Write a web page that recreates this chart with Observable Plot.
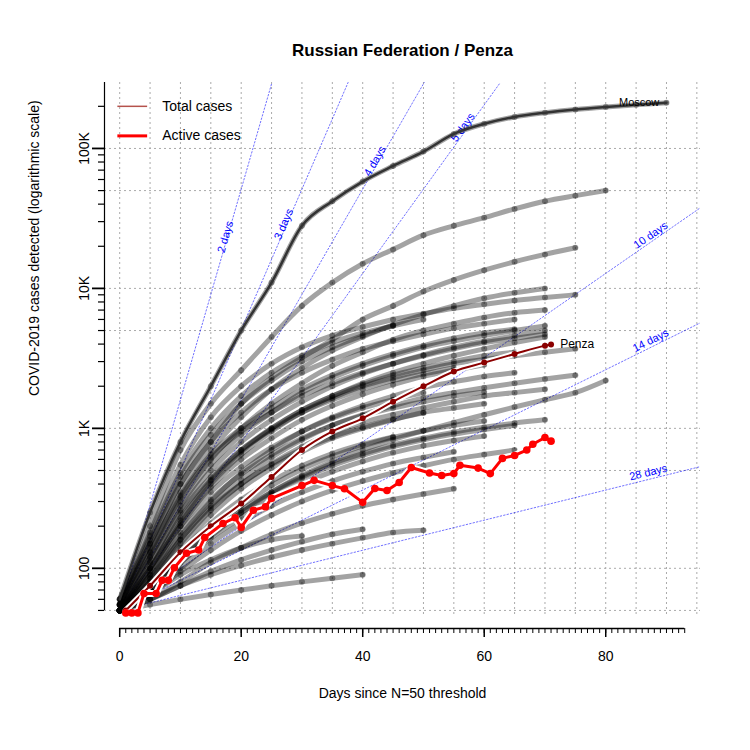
<!DOCTYPE html>
<html><head><meta charset="utf-8">
<script src="https://cdn.jsdelivr.net/npm/d3@7"></script>
<script src="https://cdn.jsdelivr.net/npm/@observablehq/plot@0.6"></script>
<style>body{margin:0;background:#fff} svg{font-family:"Liberation Sans",Arial,sans-serif}</style>
</head><body><div class="chart"></div>
<script>
// Other regions: values every 5 days from day 0
const regions = [
  [60,250,800,2000,5000,11000,28000,42000,58000,75000,95000,127000,150000,168000,180000,190000,198000,205000,212000],
  [55,200,700,1500,2600,4500,7500,11000,15000,19000,24000,28000,32000,37000,42000,46000,50000],
  [55,150,400,800,1500,2300,3200,4300,6000,7500,9500,11500,13500,15500,17500,19500],
  [50,130,350,700,1200,1900,2700,3600,4500,5500,6500,7500,8500,9300,10000],
  [50,120,300,600,1000,1500,2100,2800,3500,4300,5000,5600,6200,6700,7000],
  [55,140,330,650,1000,1400,1900,2400,2900,3400,3900,4400,4800,5100],
  [50,110,260,500,800,1150,1550,2000,2450,2900,3350,3800,4200,4600,5000],
  [50,100,230,430,700,1000,1350,1700,2050,2400,2700,3000,3300,3500],
  [50,90,200,380,600,850,1150,1450,1750,2050,2350,2600,2850],
  [50,95,210,400,650,950,1300,1650,2000,2300,2600,2900,3100,3300,3500,3700],
  [50,85,170,300,480,700,950,1200,1450,1700,1950,2150,2350,2500],
  [50,80,160,280,430,620,830,1050,1250,1450,1650,1800,1950,2100,2250,2400],
  [50,75,140,240,370,520,680,850,1000,1150,1300,1400,1500],
  [50,80,150,260,400,560,740,920,1100,1250,1400,1550,1700,1800,1900],
  [50,70,120,190,280,390,510,630,750,860,960,1050,1130],
  [50,70,115,175,250,340,440,540,640,740,830,910,980,1050],
  [50,65,100,150,210,280,350,420,490,560,620,680],
  [50,60,80,110,140,175,210,245,280,310,340,370],
  [50,60,75,95,115,135,155,175,190],
  [50,55,60,65,70,75,80,85,90],
  [50,65,90,115,140,160,170],
  [50,60,75,90,105,120,135,150,165,180,187],
  [60,160,450,900,1500,2200,3000,3800,4600,5400,6000],
  [60,170,480,1000,1700,2500,3300,4100,4800,5400],
  [55,150,400,800,1300,1900,2500,3100,3700,4200,4700,5200,5600,6000],
  [55,130,320,620,950,1300,1700,2100,2500,2900,3300,3700,4100,4400,4700],
  [50,110,250,450,700,980,1300,1600,1900,2200,2450,2700],
  [50,100,200,350,530,730,950,1180,1400,1600,1800],
  [50,90,180,310,470,650,850,1050,1230,1400,1550,1700,1820],
  [50,85,160,270,400,550,710,870,1020,1160,1290],
  [50,75,130,210,310,420,540,660,770,870],
  [55,120,280,550,900,1300,1800,2300,2800,3300,3800,4200,4600,5000,5400],
  [50,100,220,420,680,1000,1350,1700,2100,2500,2900,3300,3700,4100,4500],
  [50,65,95,135,185,240,300,360,420,480,540,600,650,700],
  [50,75,120,180,260,350,450,560,660,760,850,940,1020,1090,1150],
  [50,70,110,165,230,310,400,490,580,670,750,820,880],
  [55,180,550,1200,2000,2900,3800,4600,5300,6000,6600,7200,7700,8200,8600,9000],
  [50,70,110,170,250,350,460,580,700,830,960,1100,1250,1420,1600,1800,2200]
];
const penzaTotalDays = [1,5,10,15,20,25,30,35,40,45,50,55,60,65,70,71];
const penzaTotal = [50,75,130,200,290,450,700,950,1180,1550,2000,2550,2950,3400,3900,3980];
const activeDays = [1,2,3,4,6,7,8,9,11,13,14,17,19,20,22,24,25,30,32,35,37,40,42,44,46,48,51,53,55,56,59,61,63,65,67,68,70,71];
const activeVals = [48,48,48,66,66,82,82,101,128,135,166,209,230,196,260,275,316,390,425,390,370,296,372,360,410,525,480,460,475,545,520,475,610,640,700,770,860,810];
const doublingT = [2,3,4,5,10,14,28];
const doublingLabelDay = [17.4,27,42,56.5,87.4,87.4,87];
const gridXs = d3.range(0, 96, 5);
const gridYs = [50,100,500,1000,5000,10000,50000,100000];
const yMajor = [100,1000,10000,100000];
const yMinor = [50,60,70,80,90,200,300,400,500,600,700,800,900,2000,3000,4000,5000,6000,7000,8000,9000,20000,30000,40000,50000,60000,70000,80000,90000,200000];
const xMinor = d3.range(0, 94, 1);
const xMajor = [0,20,40,60,80];

const yMin = 46, yMax = 296000, xMin = -2.5, xMax = 95.6;
const rows = regions.flatMap((vals, i) => vals.map((v, k) => ({id: i, day: k * 5, v})));
const penzaRows = penzaTotalDays.map((d, i) => ({day: d, v: penzaTotal[i]}));
const activeRows = activeDays.map((d, i) => ({day: d, v: activeVals[i]}));
const dblRows = doublingT.flatMap(T => {
  const end = Math.min(xMax, T * Math.log2(yMax / 50));
  return [{T, day: 0, v: 50}, {T, day: end, v: 50 * 2 ** (end / T)}];
});
const pxDay = 596 / (xMax - xMin), pxDec = 533 / Math.log10(yMax / yMin);
const dblLabels = doublingT.map((T, i) => ({
  T, day: doublingLabelDay[i], v: 50 * 2 ** (doublingLabelDay[i] / T),
  angle: Math.atan(pxDec * Math.log10(2) / T / pxDay) * 180 / Math.PI
}));
const fmt = v => v >= 1000 ? (v / 1000) + "K" : String(v);

const plot = Plot.plot({
  width: 750, height: 750,
  marginLeft: 104, marginRight: 50, marginTop: 82, marginBottom: 135,
  x: {domain: [xMin, xMax], axis: null},
  y: {type: "log", domain: [yMin, yMax], axis: null},
  marks: [
    Plot.ruleX(gridXs, {stroke: "#aaa", strokeDasharray: "2,3"}),
    Plot.ruleY(gridYs, {stroke: "#aaa", strokeDasharray: "2,3"}),
    Plot.line(dblRows, {x: "day", y: "v", z: "T", stroke: "blue", strokeOpacity: 0.7, strokeWidth: 0.8, strokeDasharray: "1.5,2", clip: true}),
    Plot.text(dblLabels, {x: "day", y: "v", text: d => d.T + " days", rotate: d => -d.angle, fill: "blue", fontSize: 11, dy: -7}),
    Plot.line(rows, {x: "day", y: "v", z: "id", stroke: "black", strokeOpacity: 0.36, strokeWidth: 5, curve: "monotone-x"}),
    Plot.dot(rows, {x: "day", y: "v", r: 3, fill: "black", fillOpacity: 0.35}),
    Plot.line(regions[0].map((v, k) => ({day: k * 5, v})), {x: "day", y: "v", stroke: "#333", strokeWidth: 2.5, curve: "monotone-x"}),
    Plot.line(penzaRows, {x: "day", y: "v", stroke: "white", strokeWidth: 6, curve: "monotone-x"}),
    Plot.line(penzaRows, {x: "day", y: "v", stroke: "#8b0000", strokeWidth: 2, curve: "monotone-x"}),
    Plot.dot(penzaRows, {x: "day", y: "v", r: 3, fill: "#8b0000"}),
    Plot.line(activeRows, {x: "day", y: "v", stroke: "white", strokeWidth: 7}),
    Plot.line(activeRows, {x: "day", y: "v", stroke: "red", strokeWidth: 3}),
    Plot.dot(activeRows, {x: "day", y: "v", r: 3.8, fill: "red"}),
    Plot.text(["Moscow"], {x: 85.5, y: 212000, text: d => d, fontSize: 11, fill: "black"}),
    Plot.text(["Penza"], {x: 72.5, y: 3980, text: d => d, fontSize: 12, fill: "black", textAnchor: "start"}),
    // axes
    Plot.ruleX([xMin], {y1: 50, y2: yMax, stroke: "black", strokeWidth: 1.2}),
    Plot.axisY(yMinor, {anchor: "left", label: null, tickSize: 6, tickFormat: () => "", strokeWidth: 1.2}),
    Plot.axisY(yMajor, {anchor: "left", label: null, tickSize: 12, tickFormat: fmt, tickRotate: -90, fontSize: 14, tickPadding: 4, strokeWidth: 1.8}),
    Plot.ruleY([yMin], {x1: 0, x2: 93, dy: 13, stroke: "black", strokeWidth: 1.5}),
    Plot.axisX(xMinor, {anchor: "bottom", label: null, tickSize: 5, tickFormat: () => "", dy: 13}),
    Plot.axisX(xMajor, {anchor: "bottom", label: null, tickSize: 9, fontSize: 14, tickPadding: 14, dy: 13, strokeWidth: 1.5}),
    Plot.text(["Russian Federation / Penza"], {frameAnchor: "top", dy: -39, fontSize: 17, fontWeight: "bold", fill: "black"}),
    Plot.text(["Days since N=50 threshold"], {frameAnchor: "bottom", dy: 82, fontSize: 14, fill: "black"}),
    Plot.text(["COVID-2019 cases detected (logarithmic scale)"], {frameAnchor: "left", dx: -70, dy: 47, rotate: -90, fontSize: 14, fill: "black"}),
    // legend
    Plot.ruleY([200000], {x1: -0.3, x2: 4.6, stroke: "#b5524c", strokeWidth: 1.5}),
    Plot.ruleY([123000], {x1: -0.3, x2: 4.6, stroke: "red", strokeWidth: 3}),
    Plot.text(["Total cases"], {x: 7, y: 200000, text: d => d, textAnchor: "start", fontSize: 14}),
    Plot.text(["Active cases"], {x: 7, y: 123000, text: d => d, textAnchor: "start", fontSize: 14})
  ]
});
document.querySelector(".chart").appendChild(plot);
</script></body></html>
